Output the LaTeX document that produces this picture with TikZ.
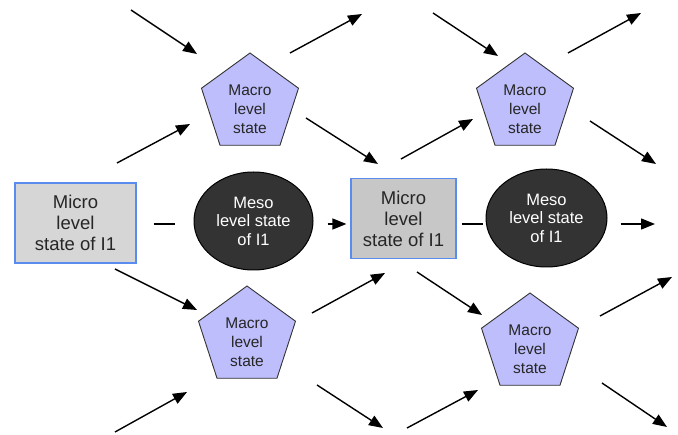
\documentclass[tikz,border=0pt]{standalone}
\usepackage{fontspec}
\setmainfont{Liberation Sans}
\usetikzlibrary{arrows.meta,shapes.geometric}

\definecolor{macrofill}{RGB}{190,190,252}
\definecolor{microedge}{RGB}{90,140,240}
\definecolor{mesofill}{RGB}{51,51,51}

\tikzset{
  micro/.style={rectangle, draw=microedge, line width=1.2pt, minimum height=80pt,
    align=center, text=black!85, font=\fontsize{18.5}{21}\selectfont},
  meso/.style={ellipse, draw=black, line width=1pt, fill=mesofill, text=white,
    minimum width=119pt, minimum height=98pt, inner sep=0pt, align=center,
    font=\fontsize{16.5}{18.5}\selectfont},
  macro/.style={regular polygon, regular polygon sides=5, draw=black!80, line width=0.9pt,
    fill=macrofill, minimum size=102pt, inner sep=0pt},
  macrotext/.style={align=center, inner sep=0pt, text=black!85,
    font=\fontsize{15.5}{19}\selectfont},
  arr/.style={line width=1.4pt, -{Triangle[length=14pt,width=11pt]}},
  link/.style={line width=1.4pt}
}

\begin{document}
\begin{tikzpicture}[x=1pt,y=-1pt]
      \useasboundingbox (0,0) rectangle (678,435);
      % states of I1
      \node [micro, fill=black!16, minimum width=121pt] (m1) at (75.5,223) {Micro\\level\\state of I1};
      \node [meso] (e1) at (253.5,221) {Meso\\level state\\of I1};
      \node [micro, fill=black!22, minimum width=105pt] (m2) at (403.5,218.5) {Micro\\level\\state of I1};
      \node [meso, minimum width=121pt] (e2) at (546.5,218) {Meso\\level state\\of I1};
      % macro states, text set a little low
      \foreach \n/\x/\y in {1/250/104, 2/247/337, 3/525/104, 4/530/344} {
        \node [macro] (p\n) at (\x,\y) {};
        \node [macrotext] (pt\n) at ([yshift=-5pt]p\n.center) {Macro\\level\\state};
      }
      \coordinate (mid) at (0,224);
      \coordinate (out) at (655,224);
      \draw [link, shorten <=17pt, shorten >=19pt] (m1.east |- mid) -- (e1.west |- mid);
      \draw [arr, shorten <=14pt, shorten >=4pt] (e1.east |- mid) -- (m2.west |- mid);
      \draw [link, shorten <=5pt, shorten >=3pt] (m2.east |- mid) -- (e2.west |- mid);
      \draw [arr, shorten <=13pt] (e2.east |- mid) -- (out);
      % loose arrows round the macro states
      \foreach \n/\xa/\ya/\xb/\yb in {1/131/10/197/54, 2/117/163/190/124, 3/290/53/362/14,
          4/306/118/378/164, 5/433/13/498/56, 6/401/159/473/119, 7/568/53/641/13,
          8/590/121/656/164, 9/115/269/197/310, 10/312/313/385/273, 11/115/432/187/392,
          12/317/385/383/428, 13/417/272/482/315, 14/407/428/478/390, 15/600/316/672/277,
          16/602/383/667/427} {
        \coordinate (s\n) at (\xa,\ya);
        \coordinate (t\n) at (\xb,\yb);
        \draw [arr] (s\n) -- (t\n);
      }
\end{tikzpicture}
\end{document}
